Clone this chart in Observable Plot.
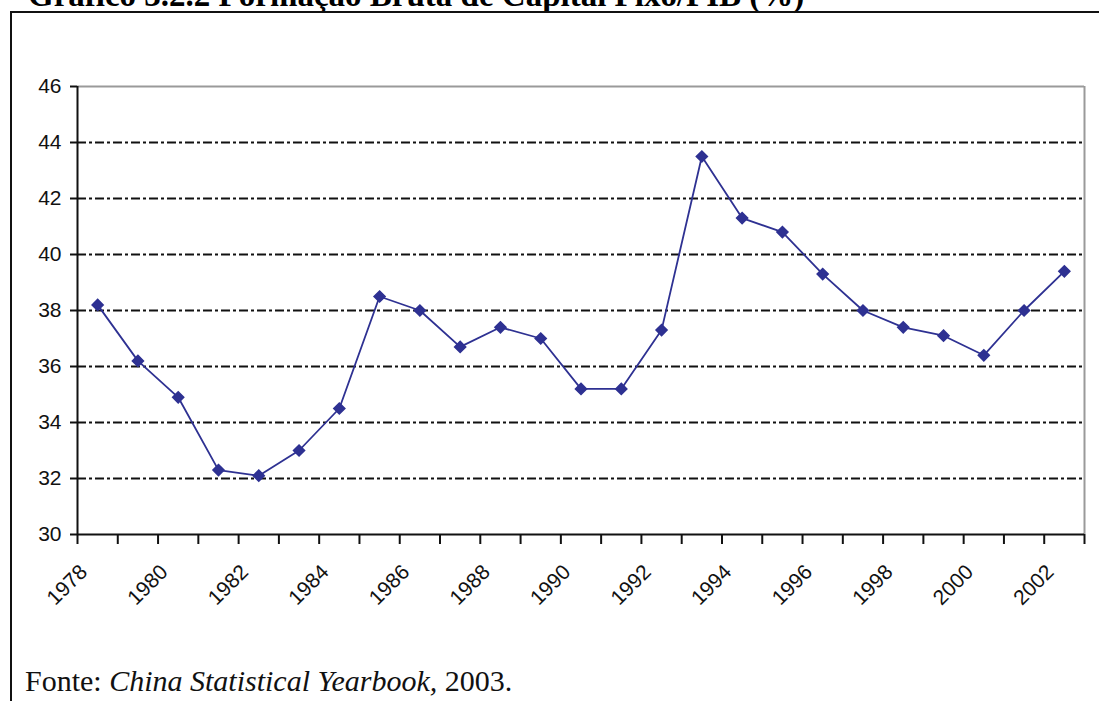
<!DOCTYPE html>
<html>
<head>
<meta charset="utf-8">
<script src="https://cdn.jsdelivr.net/npm/d3@7"></script>
<script src="https://cdn.jsdelivr.net/npm/@observablehq/plot@0.6"></script>
<style>
  html, body { margin: 0; padding: 0; background: #fff; overflow: hidden; }
  #wrap { position: relative; width: 1099px; height: 701px; overflow: hidden; }
  #title { position: absolute; left: 28px; top: -22px; line-height: 34px; font-family: "Liberation Serif", serif; font-weight: bold; font-size: 33px; white-space: nowrap; color: #000; }
  #frame { position: absolute; left: 10px; top: 11px; width: 1200px; height: 800px; border-left: 2px solid #111; border-top: 2px solid #111; }
  #chart { position: absolute; left: 0; top: 0; }
  #caption { position: absolute; left: 25px; top: 665px; line-height: 32px; font-family: "Liberation Serif", serif; font-size: 30px; white-space: nowrap; color: #111; }
</style>
</head>
<body>
<div id="wrap">
  <div id="title">Gráfico 3.2.2 Formação Bruta de Capital Fixo/PIB (%)</div>
  <div id="frame"></div>
  <div id="chart"></div>
  <div id="caption">Fonte: <i>China Statistical Yearbook,</i> 2003.</div>
</div>
<script>
const years = [1978,1979,1980,1981,1982,1983,1984,1985,1986,1987,1988,1989,1990,1991,1992,1993,1994,1995,1996,1997,1998,1999,2000,2001,2002];
const values = [38.2,36.2,34.9,32.3,32.1,33.0,34.5,38.5,38.0,36.7,37.4,37.0,35.2,35.2,37.3,43.5,41.3,40.8,39.3,38.0,37.4,37.1,36.4,38.0,39.4];
const yTicks = [30,32,34,36,38,40,42,44,46];
const gridLines = [32,34,36,38,40,42,44];
const xLabels = [1978,1980,1982,1984,1986,1988,1990,1992,1994,1996,1998,2000,2002];

const data = years.map((y, i) => ({year: y, value: values[i]}));
const xMin = years[0] - 0.5, xMax = years[years.length - 1] + 0.5;
const boundaries = years.map(y => y - 0.5).concat([xMax]);
const lineColor = "#2E3192";

const chart = Plot.plot({
  width: 1099,
  height: 640,
  marginTop: 86,
  marginBottom: 106,
  marginLeft: 77,
  marginRight: 15,
  style: {fontFamily: "'Liberation Sans', Arial, sans-serif", fontSize: "20px", color: "#111", background: "transparent"},
  x: {domain: [xMin, xMax]},
  y: {domain: [yTicks[0], yTicks[yTicks.length - 1]]},
  marks: [
    Plot.ruleY(gridLines, {stroke: "#111", strokeWidth: 1.8, strokeDasharray: "9,3,3,3"}),
    Plot.ruleY([yTicks[yTicks.length - 1]], {stroke: "#9a9a9a", strokeWidth: 2}),
    Plot.ruleX([xMax], {stroke: "#9a9a9a", strokeWidth: 2}),
    Plot.ruleY([yTicks[0]], {stroke: "#111", strokeWidth: 2}),
    Plot.ruleX([xMin], {stroke: "#111", strokeWidth: 2}),
    Plot.axisY({ticks: yTicks, tickSize: 7, tickPadding: 9, tickFormat: d => String(d), stroke: "#111", strokeWidth: 2, strokeOpacity: 1, fontSize: 21, label: null}),
    Plot.axisX({ticks: boundaries, tickSize: 10, tickFormat: () => "", stroke: "#111", strokeWidth: 2, strokeOpacity: 1, label: null}),
    Plot.axisX({ticks: xLabels, tickSize: 0, tickPadding: 34, dx: -14, tickRotate: -45, tickFormat: d => String(d), fontSize: 21, label: null}),
    Plot.line(data, {x: "year", y: "value", stroke: lineColor, strokeWidth: 1.8}),
    Plot.dot(data, {x: "year", y: "value", symbol: "diamond2", r: 5, fill: lineColor, stroke: lineColor})
  ]
});
document.getElementById("chart").appendChild(chart);
</script>
</body>
</html>
